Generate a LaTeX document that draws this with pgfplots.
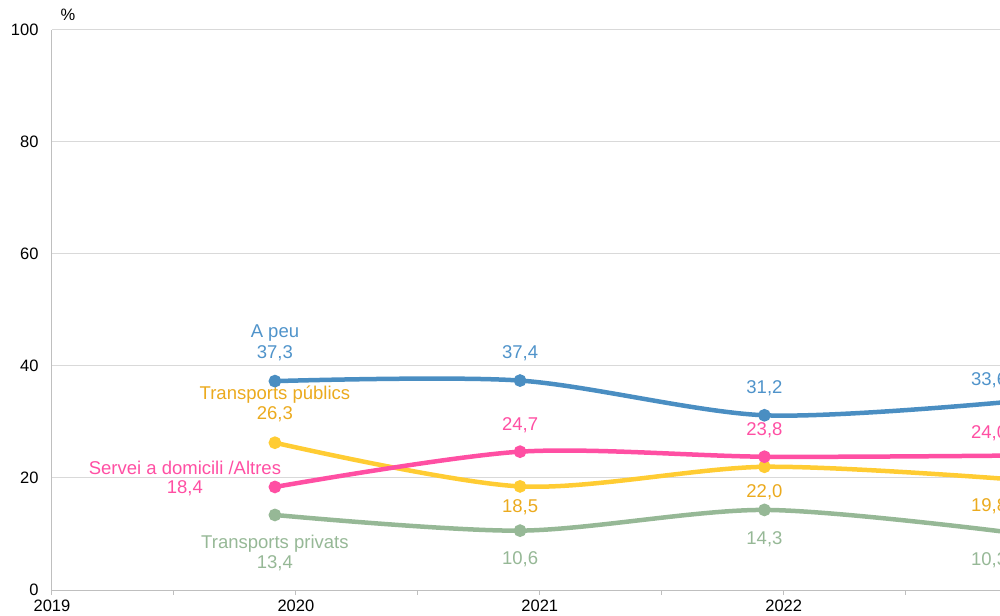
\documentclass[border=0pt]{standalone}
\usepackage{pgfplots}
\pgfplotsset{compat=1.18}
\usepackage{fontspec}
\setmainfont{Liberation Sans}
\definecolor{cblue}{HTML}{4A8EC2}
\definecolor{cbluet}{HTML}{4F93CA}
\definecolor{cpink}{HTML}{FF4FA3}
\definecolor{cyel}{HTML}{FFCC33}
\definecolor{cyelt}{HTML}{EBAA1E}
\definecolor{cgreen}{HTML}{96B896}
\definecolor{gridc}{HTML}{D9D9D9}
\definecolor{axc}{HTML}{BFBFBF}
\newcommand{\lf}{\fontsize{18.5}{20}\selectfont}
\newcommand{\tf}{\fontsize{16.5}{18}\selectfont}
\begin{document}
\begin{tikzpicture}
\begin{axis}[
  scale only axis, width=1024.38pt, height=560pt,
  xmin=2019, xmax=2023.2, ymin=0, ymax=100,
  axis x line*=bottom, axis y line*=left,
  axis line style={draw=axc, line width=1pt},
  xtick={2019,2020,2021,2022,2023},
  minor xtick={2019.5,2020.5,2021.5,2022.5},
  xtick align=outside,
  major tick length=5pt, minor tick length=5pt,
  xtick style={draw=axc, line width=1pt},
  minor tick style={draw=axc, line width=1pt},
  ytick={0,20,40,60,80,100},
  ytick style={draw=none},
  ymajorgrids, major grid style={draw=gridc, line width=1pt},
  xticklabel style={font=\tf, text=black, yshift=-1pt},
  yticklabel style={font=\tf, text=black, xshift=-10pt},
  /pgf/number format/assume math mode=true,
  /pgf/number format/1000 sep={},
  clip=false,
  every axis plot/.append style={line width=4.5pt, smooth, tension=0.5, mark=*, mark size=4pt, mark options={solid, line width=1pt}},
]
\addplot[cgreen, mark options={fill=cgreen}] coordinates {(2019.914,13.4) (2020.919,10.6) (2021.921,14.3) (2022.924,10.3)};
\addplot[cyel, mark options={fill=cyel}] coordinates {(2019.914,26.3) (2020.919,18.5) (2021.921,22.0) (2022.924,19.8)};
\addplot[cpink, mark options={fill=cpink}] coordinates {(2019.914,18.4) (2020.919,24.7) (2021.921,23.8) (2022.924,24.0)};
\addplot[cblue, mark options={fill=cblue}] coordinates {(2019.914,37.3) (2020.919,37.4) (2021.921,31.2) (2022.924,33.6)};
% labels 2020
\node[cbluet,font=\lf,yshift=28pt] at (axis cs:2019.914,37.3) {37,3};
\node[cbluet,font=\lf,yshift=48pt] at (axis cs:2019.914,37.3) {A peu};
\node[cyelt,font=\lf,yshift=28pt] at (axis cs:2019.914,26.3) {26,3};
\node[cyelt,font=\lf,yshift=48pt] at (axis cs:2019.914,26.3) {Transports públics};
\node[cpink,font=\lf,xshift=-90pt,yshift=-1pt] at (axis cs:2019.914,18.4) {18,4};
\node[cpink,font=\lf,xshift=-90pt,yshift=19pt] at (axis cs:2019.914,18.4) {Servei a domicili /Altres};
\node[cgreen,font=\lf,yshift=-29pt] at (axis cs:2019.914,13.4) {Transports privats};
\node[cgreen,font=\lf,yshift=-48pt] at (axis cs:2019.914,13.4) {13,4};
% labels 2021
\node[cbluet,font=\lf,yshift=27pt] at (axis cs:2020.919,37.4) {37,4};
\node[cpink,font=\lf,yshift=26pt] at (axis cs:2020.919,24.7) {24,7};
\node[cyelt,font=\lf,yshift=-21pt] at (axis cs:2020.919,18.5) {18,5};
\node[cgreen,font=\lf,yshift=-29pt] at (axis cs:2020.919,10.6) {10,6};
% labels 2022
\node[cbluet,font=\lf,yshift=27pt] at (axis cs:2021.921,31.2) {31,2};
\node[cpink,font=\lf,yshift=26pt] at (axis cs:2021.921,23.8) {23,8};
\node[cyelt,font=\lf,yshift=-25pt] at (axis cs:2021.921,22.0) {22,0};
\node[cgreen,font=\lf,yshift=-29pt] at (axis cs:2021.921,14.3) {14,3};
% labels 2023
\node[cbluet,font=\lf,xshift=-20pt,yshift=22pt] at (axis cs:2022.924,33.6) {33,6};
\node[cpink,font=\lf,xshift=-20pt,yshift=22pt] at (axis cs:2022.924,24.0) {24,0};
\node[cyelt,font=\lf,xshift=-20pt,yshift=-27pt] at (axis cs:2022.924,19.8) {19,8};
\node[cgreen,font=\lf,xshift=-20pt,yshift=-28pt] at (axis cs:2022.924,10.3) {10,3};
\end{axis}
\node[font=\tf] at (16pt,575pt) {\%};
\pgfresetboundingbox
\useasboundingbox (-52pt,-25pt) rectangle (948pt,590pt);
\end{tikzpicture}
\end{document}
